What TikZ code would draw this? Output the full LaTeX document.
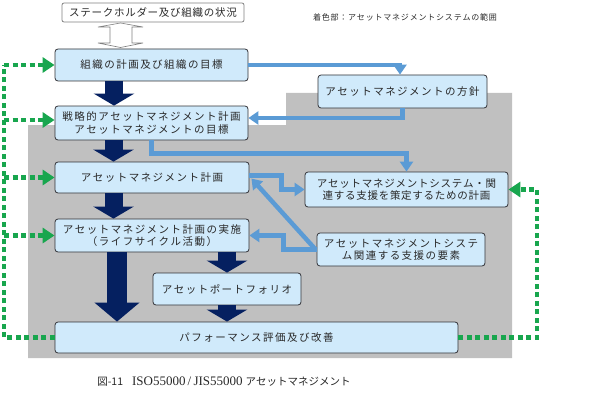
\documentclass[tikz,border=0pt]{standalone}
\usepackage{fontspec}
\setmainfont{Noto Sans CJK JP}[Kerning=Off]
\newfontfamily\boxfont{Noto Sans CJK JP}[Kerning=Off,LetterSpace=14]
\newfontfamily\boxfontnarrow{Noto Sans CJK JP}[Kerning=Off,LetterSpace=7]
\newfontfamily\legendfont{Noto Sans CJK JP}[Kerning=Off,LetterSpace=10]
\newfontfamily\latinserif{Liberation Serif}
\usetikzlibrary{arrows.meta,calc}
\definecolor{boxfill}{RGB}{208,234,251}
\definecolor{boxline}{RGB}{50,50,55}
\definecolor{graybg}{RGB}{192,192,192}
\definecolor{navyc}{RGB}{5,32,96}
\definecolor{bluec}{RGB}{91,155,213}
\definecolor{greenc}{RGB}{24,166,78}
\definecolor{textc}{RGB}{40,40,40}
\tikzset{
  box/.style={draw=boxline, fill=boxfill, line width=0.8pt, rounded corners=3pt,
    text=textc, align=center, font=\boxfont\fontsize{10.5}{12.5}\selectfont, inner sep=1pt},
  narrowtext/.style={font=\boxfontnarrow\fontsize{10.5}{12.5}\selectfont},
  topbox/.style={draw=gray, fill=white, line width=0.8pt, rounded corners=2pt,
    text=textc, align=center, font=\boxfontnarrow\fontsize{10.5}{12.5}\selectfont, inner sep=1pt},
  navyarrow/.style={draw=navyc, line width=18pt, -{Triangle[width=40pt,length=12pt]}},
  bignavyarrow/.style={draw=navyc, line width=20pt, -{Triangle[width=44pt,length=19pt]}},
  blueline/.style={draw=bluec, line width=4.5pt, -{Triangle[width=13pt,length=10pt]}},
  greenline/.style={draw=greenc, line width=4.5pt, dash pattern=on 5pt off 3.5pt},
  greenarrow/.style={greenline, -{Triangle[width=15pt,length=12pt]}},
}
\begin{document}
\begin{tikzpicture}[x=1pt,y=-1pt]
\useasboundingbox (0,0) rectangle (600,404);
% gray scope area
\fill[graybg] (28,125) -- (286,125) -- (286,93) -- (512,93) -- (512,358) -- (28,358) -- cycle;
% legend
\node[text=textc, font=\legendfont\fontsize{8}{10}\selectfont] (legend) at (405,17) {着色部：アセットマネジメントシステムの範囲};
% boxes
\node[topbox, minimum width=182pt, minimum height=19pt] (stake) at (153,12.5) {ステークホルダー及び組織の状況};
\node[box, minimum width=193pt, minimum height=32pt] (org) at (151.5,65) {組織の計画及び組織の目標};
\node[box, minimum width=193pt, minimum height=34pt] (strat) at (151.5,123) {戦略的アセットマネジメント計画\\アセットマネジメントの目標};
\node[box, minimum width=194pt, minimum height=31pt] (amplan) at (152,177.5) {アセットマネジメント計画};
\node[box, minimum width=194pt, minimum height=33pt] (impl) at (152,235.5) {アセットマネジメント計画の実施\\（ライフサイクル活動）};
\node[box, minimum width=148pt, minimum height=32pt] (port) at (227,289) {アセットポートフォリオ};
\node[box, minimum width=403pt, minimum height=31pt] (perf) at (256.5,337.5) {パフォーマンス評価及び改善};
\node[box, minimum width=169pt, minimum height=33pt] (policy) at (402.5,91.5) {アセットマネジメントの方針};
\node[box, narrowtext, minimum width=203pt, minimum height=35pt] (plan) at (406.5,189.5) {アセットマネジメントシステム・関\\連する支援を策定するための計画};
\node[box, minimum width=168pt, minimum height=33pt] (elem) at (401,249.5) {アセットマネジメントシステ\\ム関連する支援の要素};
% hollow double arrow between stake and org
\draw[gray, fill=white, line width=0.6pt]
  (120.5,23) -- (143,27) -- (132,27) -- (132,43) -- (143,43) -- (120.5,47.5)
  -- (98,43) -- (110,43) -- (110,27) -- (98,27) -- cycle;
% navy arrows
\draw[navyarrow] ([xshift=-37.5pt]org.south) -- ([xshift=-37.5pt]strat.north);
\draw[navyarrow] ([xshift=-38pt]strat.south) -- ([xshift=-38.5pt]amplan.north);
\draw[navyarrow] ([xshift=-38.5pt]amplan.south) -- ([xshift=-38.5pt]impl.north);
\coordinate (bigstart) at ([xshift=-35pt]impl.south);
\draw[bignavyarrow] (bigstart) -- (bigstart |- perf.north);
\draw[navyarrow] (impl.south -| port.north) -- (port.north);
\draw[navyarrow] (port.south) -- (port.south |- perf.north);
% blue connectors
\draw[blueline] (org.east) -| ([xshift=-2.5pt]policy.north);
\draw[blueline] (policy.south) |- ([yshift=5pt]strat.east);
\draw[blueline] (strat.south) -- ++(0,13) -| (plan.north);
\draw[blueline] ([yshift=2pt]amplan.east) -- ++(32,0) |- (plan.west);
\draw[blueline] ([xshift=-1pt]elem.west) -- ([xshift=2pt,yshift=-1pt]amplan.east);
\draw[blueline] (elem.west) -- ++(-33,0) |- (impl.east);
% green feedback
\coordinate (gtop) at (4,65);
\draw[greenline] (perf.west) -| (gtop);
\draw[greenarrow] (gtop) -- (org.west);
\draw[greenarrow] ([yshift=3pt]strat.west -| gtop) -- ([yshift=3pt]strat.west);
\draw[greenarrow] (amplan.west -| gtop) -- (amplan.west);
\draw[greenarrow] (impl.west -| gtop) -- (impl.west);
\coordinate (gright) at (537,337.5);
\draw[greenarrow] (perf.east) -- (gright) |- (plan.east);
% caption
\node[text=textc, font=\fontsize{10.5}{12}\selectfont, inner sep=0pt] (caption) at (224,382)
  {図-11\hspace{9pt}{\latinserif\fontsize{13}{14}\selectfont ISO55000\,/\,JIS55000}\hspace{3pt}アセットマネジメント};
\end{tikzpicture}
\end{document}
